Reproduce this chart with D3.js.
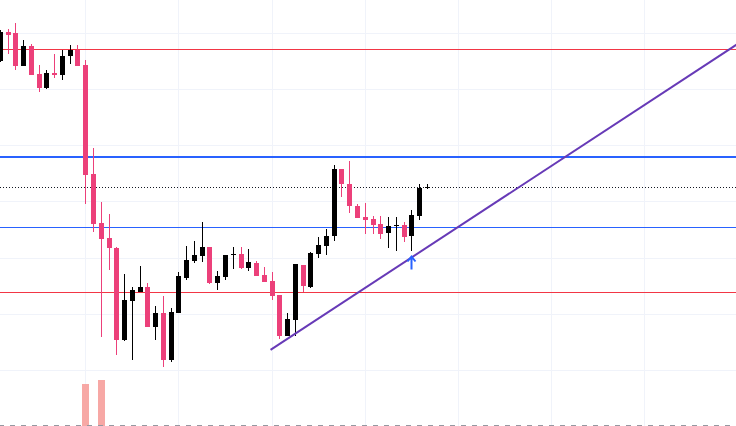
<!DOCTYPE html>
<html>
<head>
<meta charset="utf-8">
<script src="https://cdn.jsdelivr.net/npm/d3@7"></script>
<style>
html,body{margin:0;padding:0;background:#fff;overflow:hidden}
svg{display:block}
</style>
</head>
<body>
<svg id="c" width="736" height="426"></svg>
<script>
// ---- data ----
const opens  = [65.2,70.4,70.2,64.3,67.9,62.9,60.4,63.1,62.7,66.1,67.1,64.5,45.0,36.25,33.6,31.8,15.4,22.4,23.9,24.9,17.7,20.2,11.8,20.2,26.5,29.5,30.4,32.0,25.5,26.6,30.5,30.8,28.3,29.1,27.0,25.9,23.4,16.0,19.0,28.75,24.9,30.8,32.2,33.9,45.9,43.3,39.3,37.4,37.0,36.1,34.5,35.7,35.9,34.0,37.55,42.6];
const highs  = [70.7,70.9,72.0,68.9,68.3,64.5,63.6,66.4,67.1,68.0,68.0,65.4,49.6,40.0,37.9,32.0,27.1,24.9,28.6,25.5,21.4,23.3,21.1,27.5,32.1,33.0,36.4,32.0,27.7,30.5,32.0,32.0,31.6,29.5,28.4,27.5,23.4,20.1,28.9,28.75,31.1,33.75,35.2,46.6,45.9,47.3,39.7,39.9,37.55,37.55,37.4,37.4,36.5,38.6,43.3,43.3];
const lows   = [65.0,66.4,63.6,64.3,62.7,59.7,60.1,62.2,61.8,64.7,64.2,39.6,34.6,15.9,27.9,12.7,15.1,11.7,23.9,17.6,15.4,10.6,11.5,20.1,26.1,29.1,29.3,25.4,24.3,26.1,28.0,28.1,27.6,26.7,25.8,22.5,15.6,16.0,16.0,24.0,24.7,30.05,30.6,33.1,40.9,38.1,37.2,34.3,34.3,33.4,31.8,31.3,32.9,31.3,36.7,42.4];
const closes = [70.4,69.9,64.3,67.9,62.7,60.4,63.0,62.7,66.1,67.1,64.3,44.9,36.1,33.4,31.7,15.4,22.5,24.3,24.9,17.6,20.2,11.8,20.4,26.7,29.6,30.5,32.0,25.5,26.8,30.5,30.8,28.3,29.2,26.8,25.8,23.3,16.1,19.1,28.9,25.05,30.9,32.3,33.9,45.9,43.3,39.2,37.2,36.8,35.9,34.3,35.7,35.9,33.8,37.7,42.55,42.6];

const volumeIndex  = [11, 13];
const volumeValues = [21, 23];

const redLevels  = [67.3, 23.8];
const blueThick  = [48.0];
const blueThin   = [35.4];
const lastPrice  = 42.6;

const trendIdx = [34.8, 100];
const trendVal = [13.6, 72.8];

const arrowIdx = [53];

const gridValues = [10, 20, 30, 40, 50, 60, 70];
const gridIdx    = [11, 23, 35, 47, 59, 71, 83];

// ---- scales ----
const W = 736, H = 426;
const step = 7.765, x0 = 0.3;
const x = d3.scaleLinear().domain([0, 100]).range([x0, x0 + 100 * step]);
const y = d3.scaleLinear().domain([0, H / 5.6]).range([H, 0]);
const yv = d3.scaleLinear().domain([0, 50]).range([H, H - 100]);

const svg = d3.select('#c');
svg.append('rect').attr('width', W).attr('height', H).attr('fill', '#fff');
svg.append('defs').append('clipPath').attr('id', 'clip')
  .append('rect').attr('width', W).attr('height', H);
const g = svg.append('g').attr('clip-path', 'url(#clip)');

const snap = v => Math.floor(v) + 0.5;

// grid
g.selectAll('.hg').data(gridValues).join('line')
  .attr('x1', 0).attr('x2', W)
  .attr('y1', d => snap(y(d))).attr('y2', d => snap(y(d)))
  .attr('stroke', '#f0f3fa').attr('stroke-width', 1);
g.selectAll('.vg').data(gridIdx).join('line')
  .attr('y1', 0).attr('y2', H)
  .attr('x1', d => snap(x(d))).attr('x2', d => snap(x(d)))
  .attr('stroke', '#f0f3fa').attr('stroke-width', 1);

// volume
const vol = volumeIndex.map((d, k) => ({i: d, v: volumeValues[k]}));
g.selectAll('.vol').data(vol).join('rect')
  .attr('x', d => Math.round(x(d.i) - 3.5))
  .attr('width', 7)
  .attr('y', d => Math.round(yv(d.v)))
  .attr('height', d => H - Math.round(yv(d.v)))
  .attr('fill', '#f7a8a5');

// bottom dashed separator
g.append('line').attr('x1', 0).attr('x2', W).attr('y1', 425.5).attr('y2', 425.5)
  .attr('stroke', '#9598a1').attr('stroke-width', 1)
  .attr('stroke-dasharray', '5,6').attr('stroke-dashoffset', 1);

// horizontal levels
g.selectAll('.red').data(redLevels).join('line')
  .attr('x1', 0).attr('x2', W)
  .attr('y1', d => snap(y(d))).attr('y2', d => snap(y(d)))
  .attr('stroke', '#f23645').attr('stroke-width', 1);
g.selectAll('.bthin').data(blueThin).join('line')
  .attr('x1', 0).attr('x2', W)
  .attr('y1', d => snap(y(d))).attr('y2', d => snap(y(d)))
  .attr('stroke', '#2962ff').attr('stroke-width', 1);
g.selectAll('.bthick').data(blueThick).join('line')
  .attr('x1', 0).attr('x2', W)
  .attr('y1', d => Math.round(y(d))).attr('y2', d => Math.round(y(d)))
  .attr('stroke', '#2962ff').attr('stroke-width', 2);
g.append('line').attr('x1', 0).attr('x2', W)
  .attr('y1', snap(y(lastPrice))).attr('y2', snap(y(lastPrice)))
  .attr('stroke', '#131722').attr('stroke-width', 1).attr('stroke-dasharray', '1,2');

// candles
const candles = opens.map((o, i) => ({i, o, h: highs[i], l: lows[i], c: closes[i]}));
const col = d => d.c >= d.o ? '#000000' : '#ec407a';
const cg = g.selectAll('.cdl').data(candles).join('g');
cg.append('rect')
  .attr('x', d => Math.round(x(d.i) - 2.5) + 2)
  .attr('width', 1)
  .attr('y', d => Math.round(y(d.h)))
  .attr('height', d => Math.max(1, Math.round(y(d.l)) - Math.round(y(d.h))))
  .attr('fill', col);
cg.append('rect')
  .attr('x', d => Math.round(x(d.i) - 2.5))
  .attr('width', 5)
  .attr('y', d => Math.round(y(Math.max(d.o, d.c))))
  .attr('height', d => Math.max(1, Math.round(y(Math.min(d.o, d.c))) - Math.round(y(Math.max(d.o, d.c)))))
  .attr('fill', col);

// trend line
g.append('line')
  .attr('x1', x(trendIdx[0])).attr('y1', y(trendVal[0]))
  .attr('x2', x(trendIdx[1])).attr('y2', y(trendVal[1]))
  .attr('stroke', '#673ab7').attr('stroke-width', 2);

// arrow
arrowIdx.forEach(i => {
  const cx = Math.round(x(i) - 2.5) + 2.5;
  const tip = Math.round(y(lows[i])) + 5.5;
  g.append('path')
    .attr('d', `M${cx},${tip + 13}L${cx},${tip + 0.5}M${cx - 4},${tip + 5}L${cx},${tip}L${cx + 4},${tip + 5}`)
    .attr('fill', 'none').attr('stroke', '#2962ff').attr('stroke-width', 2);
});
</script>
</body>
</html>
